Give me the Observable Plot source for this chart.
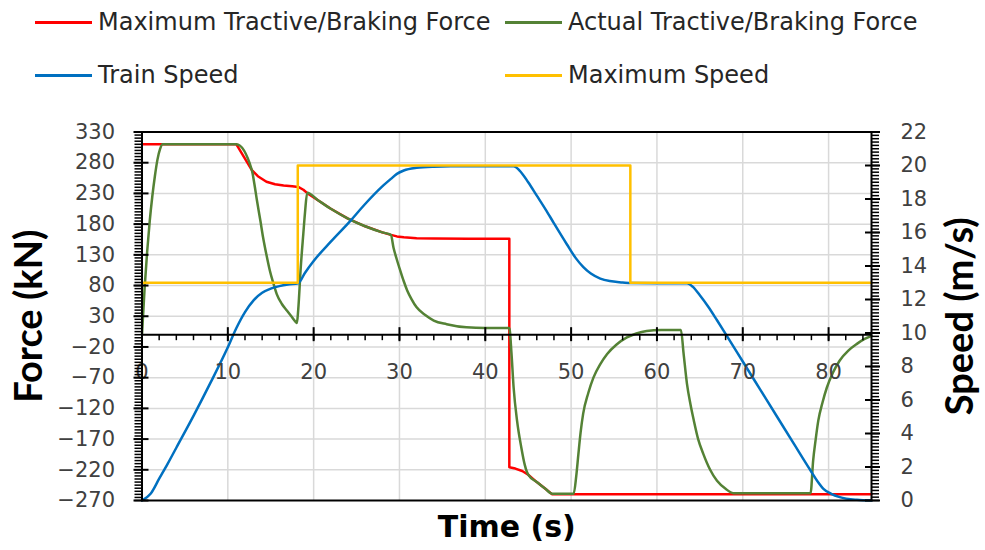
<!DOCTYPE html>
<html>
<head>
<meta charset="utf-8">
<script src="https://cdn.jsdelivr.net/npm/d3@7"></script>
<script src="https://cdn.jsdelivr.net/npm/@observablehq/plot@0.6"></script>
<style>
  body { margin: 0; background: #fff; }
  #legend { position: relative; width: 985px; height: 100px; font-family: "DejaVu Sans"; font-size: 24px; color: #262626; }
  .item { position: absolute; display: flex; align-items: center; height: 30px; white-space: nowrap; }
  .swatch { display: inline-block; width: 57px; height: 3px; margin-right: 6px; }
</style>
</head>
<body>
<div id="legend"></div>
<div id="chart"></div>
<script>
// Series names and colours
const seriesNames = ["Maximum Tractive/Braking Force", "Actual Tractive/Braking Force", "Train Speed", "Maximum Speed"];
const seriesColors = ["#ff0000", "#548235", "#0070c0", "#ffc000"];

// Axis tick values
const timeTicks = [0, 10, 20, 30, 40, 50, 60, 70, 80];
const forceTicks = [-270, -220, -170, -120, -70, -20, 30, 80, 130, 180, 230, 280, 330];
const speedTicks = [0, 2, 4, 6, 8, 10, 12, 14, 16, 18, 20, 22];

// [time (s), force (kN)]
const maxForce = [
  [0, 310], [11, 310], [12.8, 268], [13.5, 258], [14.5, 249], [15.5, 245], [16.5, 243], [17.5, 241.5],
  [18.2, 240.5], [18.8, 236], [19.3, 230], [20.5, 219], [22, 205], [24, 189], [26, 176.5], [28, 166.5],
  [29, 162.5], [29.7, 160], [30.5, 158.5], [32, 157.2], [34, 156.5], [38, 156], [42.8, 156],
  [42.8, -216], [43.5, -218], [44.3, -222], [45, -228], [46, -240], [47, -251], [47.8, -260], [85, -260]
];

// [time (s), force (kN)]
const actualForce = [
  [0, 0], [0.3, 75], [0.6, 135], [0.9, 185], [1.2, 225], [1.5, 258], [1.8, 285], [2.1, 302], [2.4, 310],
  [11, 310], [12.8, 268], [13.1, 245], [13.4, 218], [13.8, 185], [14.1, 159], [14.5, 130], [14.9, 104],
  [15.3, 84], [15.7, 66], [16.3, 50], [16.9, 39], [17.4, 30], [17.9, 21], [18.05, 19], [18.2, 40],
  [18.5, 110], [18.8, 165], [19.0, 200], [19.25, 231], [20.5, 219], [22, 205], [24, 189], [26, 176.5],
  [28, 166.5], [29, 162.5], [29.3, 142], [29.7, 122], [30.1, 104], [30.5, 87], [30.9, 72], [31.4, 58],
  [32, 44.5], [33, 32], [34, 23], [35.5, 17], [37.8, 12], [40, 11], [42.8, 11], [43.05, -30], [43.3, -86],
  [43.7, -140], [44.2, -184], [44.6, -212], [45, -228], [46, -240], [47, -251], [47.8, -259], [50.3, -259],
  [50.6, -230], [50.85, -194], [51.1, -160], [51.4, -129], [52, -95], [52.6, -70], [53.4, -48], [54.2, -31.5],
  [55.3, -16], [56.5, -4.5], [57.6, 2], [58.8, 6], [60.5, 7.5], [62.8, 7.6], [63.1, -30], [63.5, -80],
  [63.9, -113], [64.3, -140], [64.8, -170], [65.4, -194], [66.2, -220], [67, -238], [68, -251], [68.9, -258],
  [77.9, -258], [78.2, -205], [78.5, -170], [78.8, -140], [79.3, -110], [79.8, -86], [80.5, -62], [81.3, -42],
  [82.3, -26], [83.3, -15], [84.2, -7], [85, -2]
];

// [time (s), speed (m/s)]
const trainSpeed = [
  [0, 0], [1, 0.4], [2, 1.3], [3, 2.2], [4, 3.15], [6, 5.05], [8, 7.05], [10, 9.15], [11, 10.3], [12, 11.25],
  [13, 11.95], [14, 12.4], [15, 12.65], [16, 12.8], [17, 12.9], [18.2, 12.97], [19, 13.6], [20, 14.3],
  [22, 15.45], [24.2, 16.65], [26, 17.7], [28, 18.75], [29, 19.2], [29.7, 19.5], [30.5, 19.7], [32, 19.86],
  [34, 19.93], [36, 19.95], [43.3, 19.95], [44, 19.7], [45, 19.0], [46, 18.2], [47, 17.4], [48, 16.55],
  [49.5, 15.3], [50.5, 14.5], [51.4, 13.95], [52.3, 13.55], [53.4, 13.25], [54.5, 13.1], [56, 13.02],
  [57, 12.98], [63.5, 12.97], [64.2, 12.75], [65, 12.25], [66, 11.55], [67, 10.76], [68, 9.95], [70, 8.3],
  [72, 6.65], [74, 5.0], [76, 3.35], [77.9, 1.79], [78.7, 1.15], [79.4, 0.7], [80.3, 0.4], [81.3, 0.2],
  [83.3, 0.04], [85, 0]
];

// [time (s), speed (m/s)]
const maxSpeed = [[0, 13], [18.15, 13], [18.15, 20], [56.9, 20], [56.9, 13], [85, 13]];

// Speed shares the plot with force: map the secondary axis onto the primary one
const F_MIN = forceTicks[0], F_MAX = forceTicks[forceTicks.length - 1];
const V_MAX = speedTicks[speedTicks.length - 1];
const toForce = (v) => F_MIN + v * (F_MAX - F_MIN) / V_MAX;
const toSpeed = (f) => (f - F_MIN) * V_MAX / (F_MAX - F_MIN);

// Legend
const legendPos = [[35, 7], [505, 7], [35, 60], [505, 60]];
const legend = d3.select("#legend");
seriesNames.forEach((name, i) => {
  const item = legend.append("div").attr("class", "item")
    .style("left", legendPos[i][0] + "px").style("top", legendPos[i][1] + "px");
  item.append("span").attr("class", "swatch").style("background", seriesColors[i]);
  item.append("span").text(name);
});

const tickFont = {fontFamily: "DejaVu Sans", fontSize: 21, fill: "#404040"};
const titleFont = {fontWeight: "bold", fill: "black", textAnchor: "middle", lineAnchor: "middle"};
const blank = () => "";
const line = (data, color, y, curve = "linear") =>
  Plot.line(data, {x: (d) => d[0], y, stroke: color, strokeWidth: 2.5, curve});

const chart = Plot.plot({
  width: 985,
  height: 450,
  marginTop: 31.5,
  marginBottom: 50,
  marginLeft: 141.5,
  marginRight: 114,
  x: {domain: [0, 85], axis: null},
  y: {domain: [F_MIN, F_MAX], axis: null},
  style: {background: "white", overflow: "visible"},
  marks: [
    Plot.gridX(timeTicks.slice(1), {stroke: "#d9d9d9", strokeOpacity: 1, strokeWidth: 1.5}),
    Plot.gridY(forceTicks.slice(1, -1), {stroke: "#d9d9d9", strokeOpacity: 1, strokeWidth: 1.5}),

    line(maxForce, seriesColors[0], (d) => d[1]),
    line(actualForce, seriesColors[1], (d) => d[1], "monotone-x"),
    line(trainSpeed, seriesColors[2], (d) => toForce(d[1]), "monotone-x"),
    line(maxSpeed, seriesColors[3], (d) => toForce(d[1])),

    // Time axis drawn along zero force
    Plot.ruleY([0], {stroke: "black", strokeWidth: 2}),
    Plot.ruleX(d3.range(0, 85, 2), {x: (d) => d, y1: 0, y2: 0, insetBottom: -6, stroke: "black", strokeWidth: 1.5}),
    Plot.ruleX(timeTicks, {x: (d) => d, y1: 0, y2: 0, insetTop: -7, insetBottom: -7, stroke: "black", strokeWidth: 2}),
    Plot.text(timeTicks, {x: (d) => d, y: 0, dy: 38, text: (d) => String(d), ...tickFont}),

    // Force axis (left)
    Plot.axisY(d3.range(F_MIN, F_MAX + 1, 5), {anchor: "left", tickSize: 7, tickFormat: blank, label: null, strokeWidth: 1.5}),
    Plot.axisY(forceTicks, {anchor: "left", tickSize: 15, dx: 7, tickFormat: blank, label: null, strokeWidth: 2}),
    Plot.axisY(forceTicks, {anchor: "left", tickSize: 0, tickPadding: 27, label: null, ...tickFont}),

    // Speed axis (right)
    Plot.axisY(d3.range(0, 110 + 1).map((k) => toForce(k / 5)), {anchor: "right", tickSize: 7, tickFormat: blank, label: null, strokeWidth: 1.5}),
    Plot.axisY(speedTicks.map(toForce), {anchor: "right", tickSize: 15, dx: -7, tickFormat: blank, label: null, strokeWidth: 2}),
    Plot.axisY(speedTicks.map(toForce), {anchor: "right", tickSize: 0, tickPadding: 29, label: null,
      tickFormat: (f) => String(Math.round(toSpeed(f))), ...tickFont}),

    Plot.frame({stroke: "black", strokeWidth: 2}),

    // Axis titles
    Plot.text(["Force (kN)"], {frameAnchor: "left", dx: -112, rotate: -90, text: (d) => d,
      fontFamily: "Lato", fontSize: 38, ...titleFont}),
    Plot.text(["Speed (m/s)"], {frameAnchor: "right", dx: 89, rotate: -90, text: (d) => d,
      fontFamily: "Lato", fontSize: 38, ...titleFont}),
    Plot.text(["Time (s)"], {frameAnchor: "bottom", dy: 27, text: (d) => d,
      fontFamily: "DejaVu Sans", fontSize: 30, ...titleFont})
  ]
});

document.getElementById("chart").append(chart);
</script>
</body>
</html>
